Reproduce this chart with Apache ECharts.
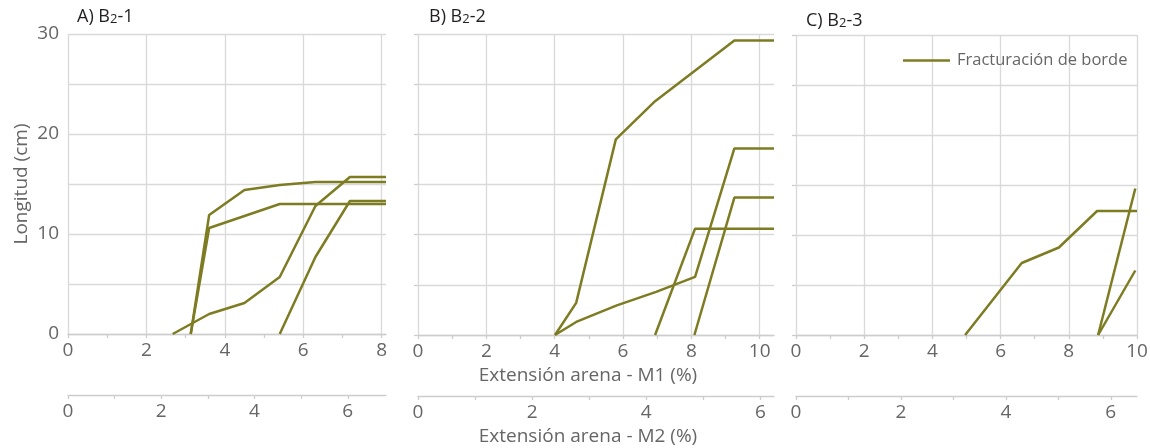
<!DOCTYPE html>
<html><head><meta charset="utf-8">
<script src="https://cdn.jsdelivr.net/npm/echarts@6/dist/echarts.min.js"></script>
<style>html,body{margin:0;padding:0;background:#fff}#c{width:1150px;height:448px}</style>
</head><body><div id="c"></div>
<script>
const seriesName = 'Fracturación de borde';
const titleMain = ['A) B', 'B) B', 'C) B'];
const titleSub = ['2', '2', '2'];
const titleEnd = ['-1', '-2', '-3'];
const yAxisName = 'Longitud (cm)';
const m1Name = 'Extensión arena - M1 (%)';
const m2Name = 'Extensión arena - M2 (%)';

// Panel A (B2-1): [extensión M1 %, longitud cm]
const a1 = [[3.13,0],[3.6,11.9],[4.5,14.4],[5.4,14.9],[6.31,15.2],[8.11,15.2]];
const a2 = [[3.13,0],[3.6,10.6],[4.5,11.8],[5.4,13.0],[8.11,13.0]];
const a3 = [[2.67,0],[3.6,2.0],[4.5,3.1],[5.4,5.7],[6.31,12.8],[7.19,15.7],[8.11,15.7]];
const a4 = [[5.4,0],[6.31,7.7],[7.19,13.3],[8.11,13.3]];
// Panel B (B2-2)
const b1 = [[4.01,0],[4.63,3.2],[5.79,19.5],[6.94,23.3],[9.26,29.35],[10.42,29.35]];
const b2 = [[4.01,0],[4.63,1.3],[5.82,2.95],[6.97,4.3],[8.11,5.8],[9.26,18.6],[10.42,18.6]];
const b3 = [[6.94,0],[8.11,10.6],[10.42,10.6]];
const b4 = [[8.09,0],[9.26,13.7],[10.42,13.7]];
// Panel C (B2-3)
const c1 = [[4.96,0],[6.62,7.2],[7.71,8.75],[8.83,12.4],[10,12.4]];
const c2 = [[8.86,0],[9.95,14.65]];
const c3 = [[8.86,0],[9.95,6.45]];

const panelLines = [[a1,a2,a3,a4],[b1,b2,b3,b4],[c1,c2,c3]];

// axis ranges and ticks
const m1Max = [8.11, 10.42, 10];
const m2Max = [6.82, 6.24, 6.5];
const m1Ticks = [[0,1,2,3,4,5,6,7,8],[0,1,2,3,4,5,6,7,8,9,10],[0,1,2,3,4,5,6,7,8,9,10]];
const m1Labels = [[0,2,4,6,8],[0,2,4,6,8,10],[0,2,4,6,8,10]];
const m2Ticks = [[0,1,2,3,4,5,6],[0,1,2,3,4,5,6],[0,1,2,3,4,5,6]];
const m2Labels = [[0,2,4,6],[0,2,4,6],[0,2,4,6]];
const yTicks = [0,5,10,15,20,25,30];
const yLabels = [0,10,20,30];

const FONT = "'Open Sans', sans-serif";
const LINE = '#7e7c22';
const GRID = '#d9d9d9';
const AXIS = '#cdcdcd';
const TXT = '#666666';

const grids = [
  {left: 68, top: 34, width: 318, height: 300, outerBoundsMode: 'none', containLabel: false},
  {left: 418, top: 34, width: 356, height: 301, outerBoundsMode: 'none', containLabel: false},
  {left: 796, top: 35, width: 341, height: 300, outerBoundsMode: 'none', containLabel: false}
];

const xAxis = [], yAxis = [], series = [], title = [];
const titlePos = [[77, 8], [429, 8], [806, 12]];
for (let i = 0; i < 3; i++) {
  xAxis.push({
    type: 'value', gridIndex: i, min: 0, max: m1Max[i], position: 'bottom',
    axisLine: {show: true, onZero: false, lineStyle: {color: AXIS, width: 1.3}},
    axisTick: {show: true, length: 4, customValues: m1Ticks[i], lineStyle: {color: AXIS, width: 1.3}},
    axisLabel: {customValues: m1Labels[i], margin: 7, color: TXT, fontSize: 19, fontFamily: FONT},
    splitLine: {show: false},
    name: i === 1 ? m1Name : '', nameLocation: 'middle', nameGap: 31,
    nameTextStyle: {color: TXT, fontSize: 19, fontFamily: FONT, padding: [0, 16, 0, 0]}
  });
  xAxis.push({
    type: 'value', gridIndex: i, min: 0, max: m2Max[i], position: 'bottom', offset: 61,
    axisLine: {show: true, onZero: false, lineStyle: {color: AXIS, width: 1.3}},
    axisTick: {show: true, length: 4, customValues: m2Ticks[i], lineStyle: {color: AXIS, width: 1.3}},
    axisLabel: {customValues: m2Labels[i], margin: 7, color: TXT, fontSize: 19, fontFamily: FONT},
    splitLine: {show: false},
    name: i === 1 ? m2Name : '', nameLocation: 'middle', nameGap: 30,
    nameTextStyle: {color: TXT, fontSize: 19, fontFamily: FONT, padding: [0, 16, 0, 0]}
  });
  xAxis.push({
    type: 'value', gridIndex: i, min: 0, max: m1Max[i], interval: 2, position: 'bottom',
    axisLine: {show: false}, axisTick: {show: false}, axisLabel: {show: false},
    splitLine: {show: true, showMaxLine: i === 2, lineStyle: {color: GRID, width: 1.3}}
  });
  yAxis.push({
    type: 'value', gridIndex: i, min: 0, max: 30, interval: 5,
    axisLine: {show: false, onZero: false},
    axisTick: {show: i > 0, length: 4, customValues: yTicks, lineStyle: {color: AXIS, width: 1.3}},
    axisLabel: {show: i === 0, customValues: yLabels, margin: 9, color: TXT, fontSize: 19, fontFamily: FONT},
    splitLine: {show: true, lineStyle: {color: GRID, width: 1.3}},
    name: i === 0 ? yAxisName : '', nameLocation: 'middle', nameGap: 37, nameRotate: 90,
    nameTextStyle: {color: TXT, fontSize: 19, fontFamily: FONT}
  });
  title.push({
    left: titlePos[i][0], top: titlePos[i][1], padding: 0,
    text: '{t|' + titleMain[i] + '}{s|' + titleSub[i] + '}{t|' + titleEnd[i] + '}',
    textStyle: {fontWeight: 'normal', rich: {
      t: {fontSize: 18, color: '#231f20', fontFamily: FONT, fontWeight: 'normal'},
      s: {fontSize: 13, color: '#231f20', fontFamily: FONT, fontWeight: 'normal', verticalAlign: 'bottom'}
    }}
  });
  panelLines[i].forEach(d => series.push({
    name: seriesName, type: 'line', xAxisIndex: 3 * i, yAxisIndex: i, data: d,
    symbol: 'none', lineStyle: {color: LINE, width: 2.5}, itemStyle: {color: LINE},
    silent: true, animation: false
  }));
}

const chart = echarts.init(document.getElementById('c'), null, {renderer: 'canvas'});
chart.setOption({
  animation: false,
  backgroundColor: '#ffffff',
  title: title,
  legend: {
    data: [{name: seriesName, icon: 'rect'}], left: 903, top: 52, padding: 0,
    itemWidth: 47, itemHeight: 2.5,
    textStyle: {color: TXT, fontSize: 16.5, fontFamily: FONT, padding: [0, 0, 0, 2]}
  },
  grid: grids,
  xAxis: xAxis,
  yAxis: yAxis,
  series: series
});
</script>
</body></html>
